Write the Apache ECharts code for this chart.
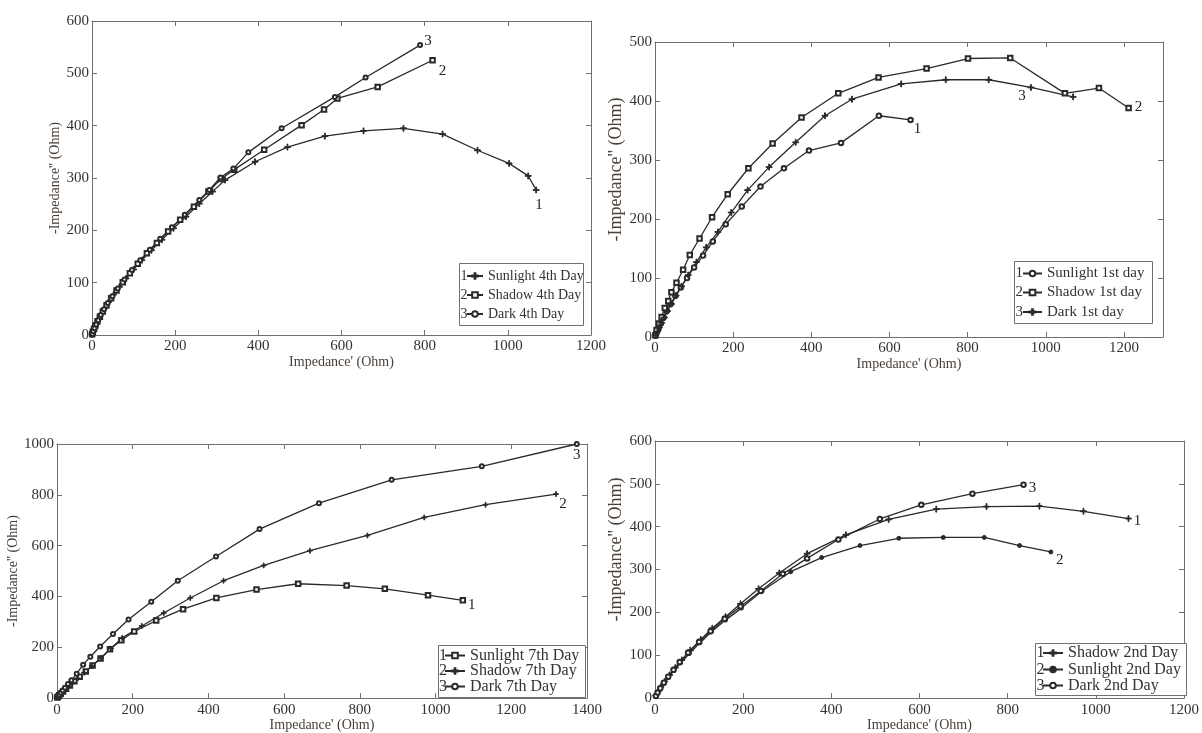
<!DOCTYPE html>
<html><head><meta charset="utf-8">
<script src="https://cdn.jsdelivr.net/npm/echarts@6/dist/echarts.min.js"></script>
<style>html,body{margin:0;padding:0;background:#fff}#c{width:1202px;height:733px}</style>
</head><body><div id="c"></div>
<script>
// ---------------- DATA (Impedance' , -Impedance'') ----------------
// Panel 1 : 4th Day
const sunlight4 = [[0.5,1],[2,5],[4,10],[7,16],[11,23],[16,31],[22,40],[30,51],[40,63],[52,77],[66,92],[82,108],[100,125],[120,143],[143,162],[168,182],[196,204],[226,226],[258,251],[290,274],[320,296],[392,331],[470,359],[560,380],[653,390],[749,395],[843,384],[927,353],[1003,328],[1049,304],[1068,277]];
const shadow4 = [[0.5,1.5],[2,6],[5,12],[8,18],[13,26],[19,35],[26,45],[35,57],[46,70],[59,85],[74,101],[91,118],[110,136],[132,156],[156,176],[183,198],[212,220],[245,245],[280,274],[310,298],[342,316],[414,354],[504,401],[558,431],[590,452],[687,474],[819,525]];
const dark4 = [[1,2],[3,7],[6,13],[10,20],[15,28],[21,38],[29,49],[38,61],[49,74],[62,89],[78,106],[96,124],[116,143],[139,163],[164,184],[192,206],[223,230],[258,258],[282,277],[309,301],[340,318],[376,349],[456,395],[584,455],[658,492],[789,554]];
// Panel 2 : 1st day
const sunlight1 = [[1,2],[4,7],[9,14],[15,23],[22,33],[30,44],[40,56],[52,70],[66,84],[82,100],[100,118],[123,138],[148,162],[181,191],[222,221],[270,255],[330,286],[394,316],[476,329],[573,375],[654,368]];
const shadow1 = [[1,3],[4,12],[10,23],[17,34],[25,49],[34,61],[42,76],[55,92],[72,114],[89,139],[114,167],[146,203],[186,242],[239,286],[301,328],[375,372],[469,413],[572,440],[695,455],[801,472],[909,473],[1049,413],[1136,422],[1212,388]];
const dark1 = [[2,3],[6,9],[11,16],[17,24],[24,33],[32,44],[42,56],[54,70],[68,86],[85,105],[106,127],[131,152],[161,178],[195,211],[237,249],[292,288],[360,330],[435,375],[504,403],[630,429],[744,436],[854,436],[962,423],[1070,407]];
// Panel 3 : 7th Day
const sunlight7 = [[1,2],[3,6],[6,11],[10,17],[16,26],[24,37],[34,50],[46,66],[60,84],[76,105],[94,128],[115,156],[140,192],[170,228],[204,262],[262,305],[333,350],[421,394],[527,427],[637,450],[765,443],[866,430],[980,405],[1072,385]];
const shadow7 = [[1,2],[4,8],[8,15],[14,24],[21,34],[30,46],[41,60],[55,78],[72,100],[92,126],[116,158],[142,195],[172,237],[224,284],[282,335],[352,394],[440,462],[546,522],[668,580],[820,640],[970,711],[1132,761],[1318,803]];
const dark7 = [[1,3],[3,7],[6,13],[10,21],[15,30],[21,41],[29,55],[38,70],[52,96],[69,131],[88,163],[114,203],[148,252],[189,309],[249,379],[319,462],[420,557],[535,665],[692,767],[884,859],[1122,912],[1373,1000]];
// Panel 4 : 2nd Day
const shadow2 = [[2,6],[7,15],[13,26],[22,39],[33,54],[46,71],[61,89],[80,112],[104,137],[130,163],[160,190],[194,220],[235,255],[282,292],[345,337],[433,381],[530,417],[638,441],[752,447],[872,448],[972,436],[1074,419]];
const sunlight2 = [[2,4],[6,12],[12,22],[20,34],[30,48],[43,64],[58,82],[78,104],[102,129],[128,155],[160,182],[196,210],[243,250],[308,295],[378,328],[465,356],[553,373],[654,375],[747,375],[827,356],[898,341]];
const dark2 = [[2,5],[6,13],[12,23],[20,36],[30,50],[42,66],[56,84],[75,106],[100,131],[126,156],[158,185],[194,214],[240,250],[290,290],[345,326],[416,370],[510,418],[604,451],[720,477],[836,498]];

const xTitle = "Impedance' (Ohm)";
const yTitle = "-Impedance'' (Ohm)";

// ---------------- LAYOUT / STYLE ----------------
const FONT = 'Liberation Serif';
const INK = '#2a2a2a';
const FRAME = '#707070';
const PLUS = 'path://M4.3,0H5.7V4.3H10V5.7H5.7V10H4.3V5.7H0V4.3H4.3Z';

const panels = [
  { grid:{left:92, top:21, width:499, height:314}, x:[0,1200,200], y:[0,600,100],
    xGap:12, yGap:21, yFs:14, yShift:0, showMax:true,
    legend:{box:[459,263,124,62], rows:[276,295,314], numX:460.5, iconX:466, iconW:16, fs:14},
    series:[
      {name:'Sunlight 4th Day', data:sunlight4, sym:PLUS, size:6, num:'1', at:-1, off:[3,15]},
      {name:'Shadow 4th Day', data:shadow4, sym:'emptyRect', size:4.5, num:'2', at:-1, off:[10,11]},
      {name:'Dark 4th Day', data:dark4, sym:'emptyCircle', size:4, num:'3', at:-1, off:[8,-4]}
    ]},
  { grid:{left:655, top:42, width:508, height:295}, x:[0,1300,200], y:[0,500,100],
    xGap:19, yGap:27, yFs:18, yShift:40, showMax:false,
    legend:{box:[1014,261,138,62], rows:[273.5,292.5,312], numX:1015.5, iconX:1022, iconW:19, fs:15},
    series:[
      {name:'Sunlight 1st day', data:sunlight1, sym:'emptyCircle', size:4.5, num:'1', at:-1, off:[7,9]},
      {name:'Shadow 1st day', data:shadow1, sym:'emptyRect', size:4.5, num:'2', at:-1, off:[10,-1]},
      {name:'Dark 1st day', data:dark1, sym:PLUS, size:6, num:'3', at:-2, off:[-9,9]}
    ]},
  { grid:{left:57, top:444, width:530, height:262}, x:[0,1400,200], y:[0,1000,200],
    xGap:17, yGap:33, yFs:14, yShift:0, showMax:true,
    legend:{box:[438,645,147,52], rows:[655.5,671,686.5], numX:439, iconX:444, iconW:20, fs:16},
    series:[
      {name:'Sunlight 7th Day', data:sunlight7, sym:'emptyRect', size:4.5, num:'1', at:-1, off:[9,5]},
      {name:'Shadow 7th Day', data:shadow7, sym:PLUS, size:5, num:'2', at:-1, off:[7,10]},
      {name:'Dark 7th Day', data:dark7, sym:'emptyCircle', size:4, num:'3', at:-1, off:[0,11]}
    ]},
  { grid:{left:655, top:441, width:532, height:264}, x:[0,1200,200], y:[0,600,100],
    xGap:17, yGap:27, yFs:18, yShift:40, showMax:true,
    legend:{box:[1035,643,151,52], rows:[653,669.5,685.5], numX:1036.5, iconX:1042, iconW:20, fs:16},
    series:[
      {name:'Shadow 2nd Day', data:shadow2, sym:PLUS, size:6, num:'1', at:-1, off:[9,3]},
      {name:'Sunlight 2nd Day', data:sunlight2, sym:'circle', size:4, num:'2', at:-1, off:[9,8]},
      {name:'Dark 2nd Day', data:dark2, sym:'emptyCircle', size:4.5, num:'3', at:-1, off:[9,3]}
    ]}
];

const grids=[], xAxes=[], yAxes=[], series=[], legends=[], graphics=[];
const plain = v => String(v);
panels.forEach((p, g) => {
  grids.push(Object.assign({show:false}, p.grid));
  const common = (r) => ({gridIndex:g, type:'value', min:r[0], max:r[1], interval:r[2],
      splitLine:{show:false},
      axisLine:{show:true, onZero:false, lineStyle:{color:FRAME, width:1}},
      axisTick:{show:true, inside:true, length:5, lineStyle:{color:FRAME}}});
  xAxes.push(Object.assign(common(p.x), {position:'bottom',
      axisLabel:{margin:4, fontFamily:FONT, fontSize:15, color:'#333', showMaxLabel:p.showMax, formatter:plain},
      name:xTitle, nameLocation:'middle', nameGap:p.xGap,
      nameTextStyle:{fontFamily:FONT, fontSize:14, color:'#4a4038'}}));
  xAxes.push(Object.assign(common(p.x), {position:'top', axisLabel:{show:false}}));
  yAxes.push(Object.assign(common(p.y), {position:'left',
      axisLabel:{margin:3, fontFamily:FONT, fontSize:15, color:'#333', formatter:plain},
      name:yTitle, nameLocation:'middle', nameGap:p.yGap, nameRotate:90,
      nameTextStyle:{fontFamily:FONT, fontSize:p.yFs, color:'#4a4038', padding:[0,0,0,p.yShift]}}));
  yAxes.push(Object.assign(common(p.y), {position:'right', axisLabel:{show:false}}));

  p.series.forEach(s => {
    const idx = s.at < 0 ? s.data.length + s.at : s.at;
    const data = s.data.map((pt, i) => i === idx ? {value:pt, label:{show:true, formatter:s.num,
        position:'inside', offset:s.off, fontFamily:FONT, fontSize:15, color:'#222'}} : pt);
    series.push({type:'line', name:s.name, xAxisIndex:2*g, yAxisIndex:2*g, data,
      symbol:s.sym, symbolSize:s.size, showAllSymbol:true, animation:false,
      lineStyle:{color:INK, width:1.3}, itemStyle:{color:INK, borderColor:INK, borderWidth:1},
      label:{show:false}, emphasis:{disabled:true}});
  });

  // legend: framed box, one legend entry per row, row number drawn before the sample line
  const L = p.legend, LH = 16;
  graphics.push({type:'rect', z:3, shape:{x:L.box[0]+0.5, y:L.box[1]+0.5, width:L.box[2], height:L.box[3]},
    style:{fill:'#fff', stroke:FRAME, lineWidth:1}});
  p.series.forEach((s, i) => {
    legends.push({show:true, orient:'vertical', left:L.iconX, top:L.rows[i] - LH/2, padding:0,
      itemWidth:L.iconW, itemHeight:7, selectedMode:false, z:5,
      data:[s.name],
      textStyle:{fontFamily:FONT, fontSize:L.fs, color:'#333', lineHeight:LH}});
    graphics.push({type:'text', z:6, x:L.numX, y:L.rows[i],
      style:{text:s.num, fontFamily:FONT, fontSize:L.fs, fill:'#333', verticalAlign:'middle', align:'left'}});
  });
});

const chart = echarts.init(document.getElementById('c'), null, {renderer:'canvas'});
chart.setOption({animation:false, backgroundColor:'#fff', grid:grids, xAxis:xAxes, yAxis:yAxes,
  series, legend:legends, graphic:graphics, tooltip:{show:false}});
</script></body></html>
